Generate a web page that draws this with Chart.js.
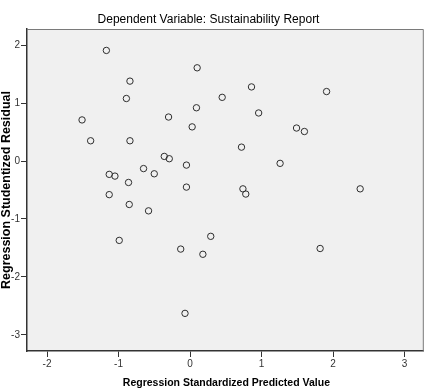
<!DOCTYPE html>
<html><head><meta charset="utf-8">
<script src="https://cdn.jsdelivr.net/npm/chart.js@4.4.1/dist/chart.umd.min.js"></script>
<style>html,body{margin:0;padding:0;background:#fff;} canvas{display:block;}</style>
</head><body>
<canvas id="c" width="428" height="390" style="width:428px;height:390px"></canvas>
<script>
const titleText = "Dependent Variable: Sustainability Report";
const xAxisTitle = "Regression Standardized Predicted Value";
const yAxisTitle = "Regression Studentized Residual";
const predicted = [-1.17, 0.10, -0.84, -0.89, 0.45, 0.86, 1.91, -1.51, -0.30, 0.09, 0.96, 0.03, -1.39, -0.84, 1.49, 1.60, -0.36, -0.29, 0.72, -0.05, 1.26, -0.65, -0.50, -1.13, -1.05, -0.86, -0.05, 0.74, 0.78, 2.38, -1.13, -0.85, -0.58, -0.99, 0.29, -0.13, 0.18, 1.82, -0.07];
const residual = [1.91, 1.61, 1.38, 1.08, 1.10, 1.28, 1.20, 0.71, 0.76, 0.92, 0.83, 0.59, 0.35, 0.35, 0.57, 0.51, 0.08, 0.04, 0.24, -0.07, -0.04, -0.13, -0.22, -0.23, -0.26, -0.37, -0.45, -0.48, -0.57, -0.48, -0.58, -0.75, -0.86, -1.37, -1.30, -1.52, -1.61, -1.51, -2.63];
const xTickValues = [-2, -1, 0, 1, 2, 3];
const yTickValues = [-3, -2, -1, 0, 1, 2];

const points = predicted.map((x, i) => ({ x: x, y: residual[i] }));

const framePlugin = {
  id: 'frame',
  beforeDraw(chart) {
    const { ctx, chartArea: a } = chart;
    ctx.save();
    ctx.fillStyle = '#ffffff';
    ctx.fillRect(0, 0, chart.width, chart.height);
    ctx.fillStyle = '#f0f0f0';
    ctx.fillRect(a.left, a.top, a.right - a.left, a.bottom - a.top);
    ctx.restore();
  },
  afterDraw(chart) {
    const { ctx, chartArea: a } = chart;
    ctx.save();
    ctx.strokeStyle = '#7a7a7a';
    ctx.lineWidth = 1;
    ctx.beginPath();
    ctx.moveTo(a.left, a.top + 0.5);
    ctx.lineTo(a.right - 0.5, a.top + 0.5);
    ctx.lineTo(a.right - 0.5, a.bottom);
    ctx.stroke();
    ctx.fillStyle = '#000';
    ctx.textAlign = 'center';
    ctx.textBaseline = 'alphabetic';
    ctx.font = '12px "Liberation Sans", Arial, sans-serif';
    ctx.fillText(titleText, 208.5, 22.5);
    ctx.font = 'bold 10.5px "Liberation Sans", Arial, sans-serif';
    ctx.fillText(xAxisTitle, (a.left + a.right) / 2 + 1, 386);
    ctx.translate(10, (a.top + a.bottom) / 2);
    ctx.rotate(-Math.PI / 2);
    ctx.font = 'bold 12.5px "Liberation Sans", Arial, sans-serif';
    ctx.fillText(yAxisTitle, 0, 0);
    ctx.restore();
  }
};

new Chart(document.getElementById('c'), {
  type: 'scatter',
  data: {
    datasets: [{
      data: points,
      pointStyle: 'circle',
      pointRadius: 3.2,
      pointHoverRadius: 3.2,
      borderWidth: 1,
      borderColor: '#2e2e2e',
      backgroundColor: 'rgba(0,0,0,0)'
    }]
  },
  options: {
    responsive: false,
    animation: false,
    events: [],
    layout: { padding: { top: 29, right: 4, left: 0, bottom: 0 } },
    plugins: { legend: { display: false }, title: { display: false }, tooltip: { enabled: false } },
    scales: {
      x: {
        type: 'linear',
        min: -2.28, max: 3.27,
        afterBuildTicks: s => { s.ticks = xTickValues.map(v => ({ value: v })); },
        afterFit: s => { s.height = 39; },
        grid: { display: true, drawOnChartArea: false, drawTicks: true, tickLength: 6, tickColor: '#333', tickWidth: 1 },
        border: { display: true, color: '#333', width: 1.5 },
        ticks: { color: '#333', padding: 1, maxRotation: 0, autoSkip: false, font: { family: '"Liberation Sans Narrow", "Liberation Sans", Arial', size: 10 }, callback: v => String(v) }
      },
      y: {
        type: 'linear',
        min: -3.28, max: 2.28,
        afterBuildTicks: s => { s.ticks = yTickValues.map(v => ({ value: v })); },
        afterFit: s => { s.width = 27; },
        grid: { display: true, drawOnChartArea: false, drawTicks: true, tickLength: 6, tickColor: '#333', tickWidth: 1 },
        border: { display: true, color: '#333', width: 1.5 },
        ticks: { color: '#333', padding: 1, autoSkip: false, font: { family: '"Liberation Sans Narrow", "Liberation Sans", Arial', size: 10 }, callback: v => String(v) }
      }
    }
  },
  plugins: [framePlugin]
});
</script>
</body></html>
